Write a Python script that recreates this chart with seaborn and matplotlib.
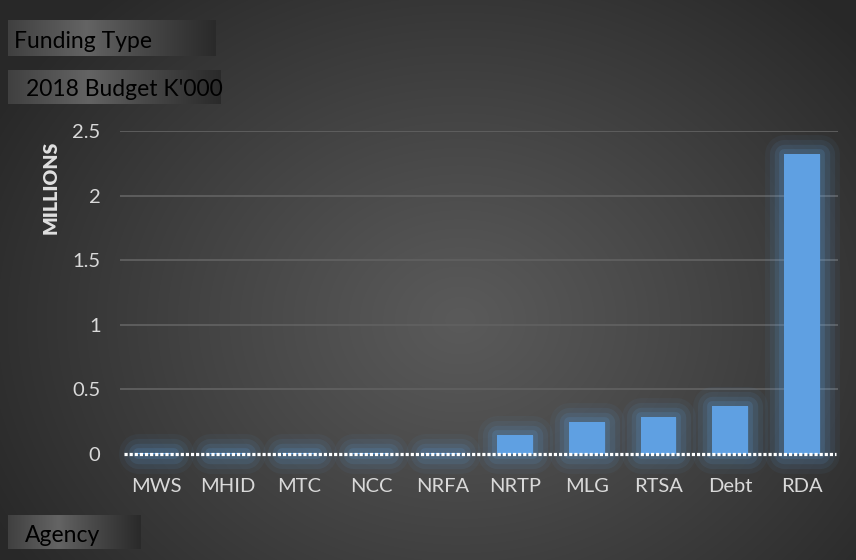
import numpy as np
import pandas as pd
import matplotlib
matplotlib.use("Agg")
import matplotlib.pyplot as plt
import seaborn as sns
from matplotlib import patheffects as pe

agencies = ["MWS", "MHID", "MTC", "NCC", "NRFA", "NRTP", "MLG", "RTSA", "Debt", "RDA"]
budget_millions = [0.004, 0.005, 0.004, 0.005, 0.008, 0.15, 0.25, 0.29, 0.37, 2.32]
y_ticks = [0, 0.5, 1, 1.5, 2, 2.5]
y_tick_labels = ["0", "0.5", "1", "1.5", "2", "2.5"]
field_buttons = ["Funding Type", "2018 Budget K'000", "Agency"]
y_axis_title = "MILLIONS"

df = pd.DataFrame({"Agency": agencies, "Budget": budget_millions})

sns.set_theme(style="white")
plt.rcParams["font.family"] = ["Lato", "DejaVu Sans"]

W, H = 856, 560
fig = plt.figure(figsize=(W / 100, H / 100), dpi=100)

# radial gradient background
bg = fig.add_axes([0, 0, 1, 1], zorder=-10)
yy, xx = np.mgrid[0:H, 0:W]
cx, cy = 460, 320
r = np.sqrt(((xx - cx) / (W * 0.62)) ** 2 + ((yy - cy) / (H * 0.78)) ** 2)
r = np.clip(r, 0, 1)
val = 0x5a - (0x5a - 0x28) * r ** 1.1
img = np.dstack([val, val, val]) / 255.0
bg.imshow(img, aspect="auto", extent=[0, W, H, 0])
bg.set_xlim(0, W)
bg.set_ylim(H, 0)
bg.axis("off")

# main axes
left, right, top, bottom = 120, 838, 131, 454
ax = fig.add_axes([left / W, 1 - bottom / H, (right - left) / W, (bottom - top) / H])
ax.set_facecolor("none")

sns.barplot(data=df, x="Agency", y="Budget", ax=ax, color="#5fa0e2",
            width=0.5, saturation=1, zorder=3)

glow = "#5b9bd5"
for p in ax.patches:
    p.set_edgecolor("none")
    p.set_clip_on(False)
    p.set_path_effects([
        pe.Stroke(linewidth=28, foreground=glow, alpha=0.06, joinstyle="round"),
        pe.Stroke(linewidth=21, foreground=glow, alpha=0.09, joinstyle="round"),
        pe.Stroke(linewidth=14, foreground=glow, alpha=0.13, joinstyle="round"),
        pe.Stroke(linewidth=7, foreground=glow, alpha=0.18, joinstyle="round"),
        pe.Normal(),
    ])

ax.set_ylim(0, 2.5)
ax.set_xlim(-0.5, len(agencies) - 0.5)
ax.set_yticks(y_ticks)
ax.set_yticklabels(y_tick_labels)
for yv in y_ticks[1:]:
    ax.axhline(yv, color="#606060", linewidth=1.3, zorder=1)
ax.axhline(0, color="white", linewidth=2.3, linestyle=(0, (1.0, 0.6)),
           dash_capstyle="butt", zorder=6, xmin=0.006, xmax=0.997, clip_on=False)

for s in ax.spines.values():
    s.set_visible(False)
ax.tick_params(axis="both", length=0, colors="#d9d9d9", labelsize=14.5)
ax.tick_params(axis="y", pad=14)
ax.tick_params(axis="x", pad=17)
ax.set_xlabel("")
ax.set_ylabel("")

fig.text(51 / W, 1 - 141 / H, y_axis_title, rotation=90, ha="center", va="top",
         color="#e0e0e0", fontsize=14, fontweight="heavy")

# field buttons with horizontal gradient
def button(x0, y0, x1, y1, label, tx):
    bax = fig.add_axes([x0 / W, 1 - y1 / H, (x1 - x0) / W, (y1 - y0) / H], zorder=5)
    n = 200
    t = np.linspace(0, 1, n)
    g = np.where(t < 0.38, 0x40 + (0x64 - 0x40) * (t / 0.38),
                 0x64 - (0x64 - 0x2a) * ((t - 0.38) / 0.62) ** 0.9)
    gi = np.tile(g, (10, 1)) / 255.0
    bax.imshow(np.dstack([gi, gi, gi]), aspect="auto", extent=[0, 1, 0, 1])
    bax.set_xlim(0, 1)
    bax.set_ylim(0, 1)
    bax.axis("off")
    fig.text(tx / W, 1 - ((y0 + y1) / 2 + 1) / H, label, ha="left", va="center_baseline",
             color="black", fontsize=16.5, zorder=6)

button(8, 20, 216, 56, field_buttons[0], 14)
button(8, 70, 221, 104, field_buttons[1], 26)
button(8, 515, 141, 549, field_buttons[2], 25)

fig.savefig("out.png", dpi=100)
